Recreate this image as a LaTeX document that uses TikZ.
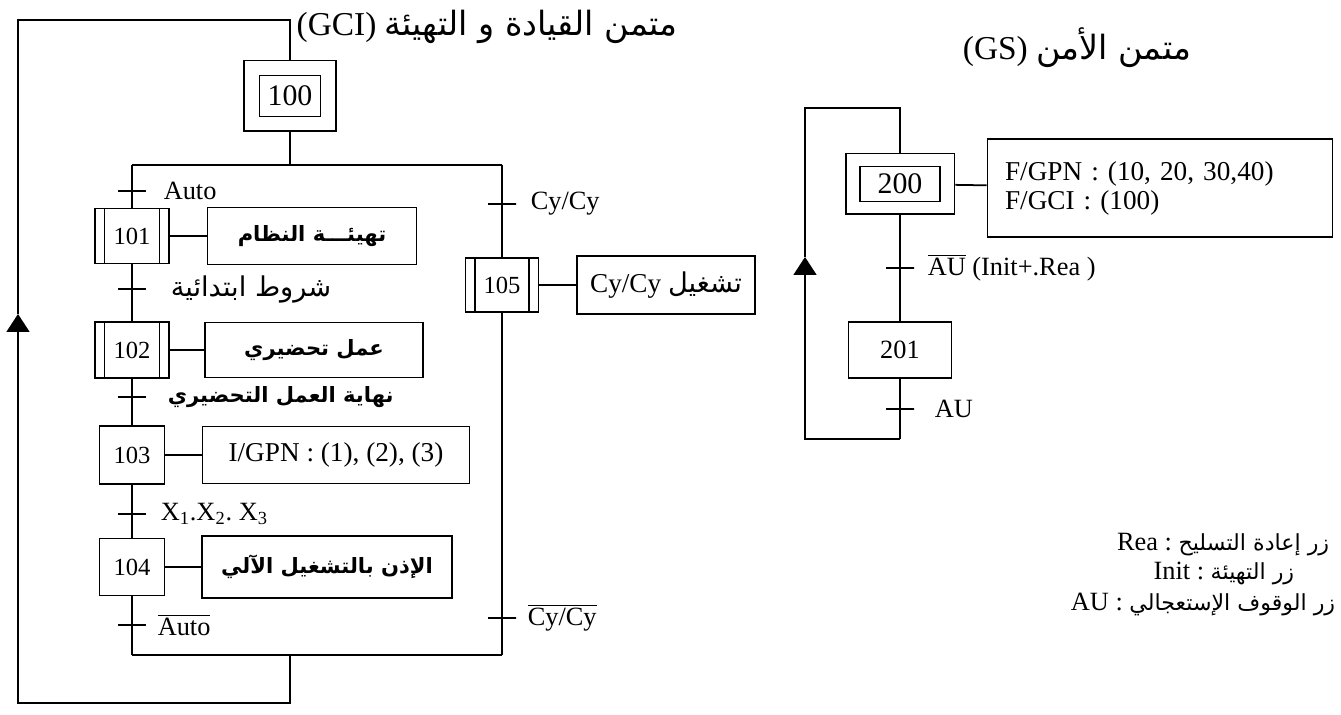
\documentclass[tikz,border=0pt]{standalone}
\usepackage{fontspec}
\setmainfont{Liberation Serif}
\newfontfamily\arabicfont[Script=Arabic]{DejaVu Sans}
\usetikzlibrary{arrows.meta,fit,positioning}
\TeXXeTstate=1
\newcommand{\artxt}[1]{{\arabicfont\beginR #1\endR}}
\newcommand{\keytxt}[1]{{\arabicfont\fontsize{12.6}{12.6}\selectfont\beginR #1\endR}}

\begin{document}
\frenchspacing
\begin{tikzpicture}[
  x=0.02cm, y=-0.02cm, line width=1pt,
  stepbox/.style={draw, inner sep=0pt, font=\fontsize{14}{14}\selectfont},
  macro/.style={stepbox, path picture={
      \draw ([xshift=0.19cm]path picture bounding box.north west) -- ([xshift=0.19cm]path picture bounding box.south west);
      \draw ([xshift=-0.19cm]path picture bounding box.north east) -- ([xshift=-0.19cm]path picture bounding box.south east);}},
  act/.style={draw, inner sep=0pt, font=\fontsize{15.5}{16.5}\selectfont},
  aract/.style={act, font=\arabicfont\bfseries\fontsize{12}{12}\selectfont},
  trans/.style={draw, inner sep=0pt, minimum width=0.56cm, minimum height=0pt},
  lbl/.style={inner sep=0pt, font=\fontsize{15}{15}\selectfont},
  arlbl/.style={lbl, font=\arabicfont\fontsize{15.5}{15.5}\selectfont},
  ttl/.style={inner sep=0pt, font=\fontsize{19}{19}\selectfont},
  backarrow/.style={-{Triangle[width=0.46cm,length=0.36cm]}}
]
\useasboundingbox (0,0) rectangle (1341,715);

\node[ttl] (gciT) at (487,27) {(GCI) \artxt{متمن القيادة و التهيئة}};
\node[stepbox, minimum width=1.22cm, minimum height=0.82cm, font=\fontsize{17}{17}\selectfont] (s100) at (290,96) {100};
\node[draw, inner xsep=0.29cm, inner ysep=0.28cm, fit=(s100)] (s100o) {};
\coordinate (dm) at (290,165);
\coordinate (dl) at (132,165);
\coordinate (dr) at (502,165);
\coordinate (cm) at (290,655);
\coordinate (cl) at (132,655);
\coordinate (cr) at (502,655);

\node[trans] (t1) at (132,191) {};
\node[lbl, right=0.32cm of t1] (l1) {Auto};
\node[macro, minimum width=1.48cm, minimum height=1.1cm] (s101) at (132,236) {101};
\node[aract, minimum width=4.18cm, minimum height=1.14cm] (a101) at (312,236) {\beginR تهيئـــة النظام\endR};
\node[trans] (t2) at (132,289) {};
\node[arlbl, right=0.46cm of t2] (l2) {\beginR شروط ابتدائية\endR};
\node[macro, minimum width=1.48cm, minimum height=1.12cm] (s102) at (132,350) {102};
\node[aract, minimum width=4.36cm, minimum height=1.1cm] (a102) at (314,350) {\beginR عمل تحضيري\endR};
\node[trans] (t3) at (132,397) {};
\node[arlbl, font=\arabicfont\bfseries\fontsize{12}{12}\selectfont, right=0.4cm of t3] (l3) {\beginR نهاية العمل التحضيري\endR};
\node[stepbox, minimum width=1.3cm, minimum height=1.16cm] (s103) at (132,455) {103};
\node[act, minimum width=5.34cm, minimum height=1.14cm] (a103) at (336,455) {I/GPN : (1), (2), (3)};
\node[trans] (t4) at (132,514) {};
\node[lbl, right=0.26cm of t4] (l4) {X\textsubscript{1}.X\textsubscript{2}. X\textsubscript{3}};
\node[stepbox, minimum width=1.3cm, minimum height=1.14cm] (s104) at (132,567) {104};
\node[aract, minimum width=5cm, minimum height=1.24cm] (a104) at (327,567) {\beginR الإذن بالتشغيل الآلي\endR};
\node[trans] (t5) at (132,625) {};
\node[lbl, right=0.2cm of t5] (l5) {$\overline{\hbox{Auto}}$};

\node[trans] (t6) at (502,204) {};
\node[lbl, right=0.26cm of t6] (l6) {Cy/Cy};
\node[macro, minimum width=1.46cm, minimum height=1.08cm] (s105) at (502,285) {105};
\node[act, minimum width=3.56cm, minimum height=1.16cm] (a105) at (666,285) {Cy/Cy \artxt{تشغيل}};
\node[trans] (t7) at (502,618) {};
\node[lbl, right=0.2cm of t7] (l7) {$\overline{\hbox{Cy/Cy}}$};

\coordinate (gciB) at (290,703);
\coordinate (gciC) at (18,703);
\coordinate (gciA) at (18,314);
\coordinate (gciD) at (18,20);

\draw (s100o) -- (dm);
\draw (dl) -- (dr);
\draw (dl) -- (t1) -- (s101) -- (t2) -- (s102) -- (t3) -- (s103) -- (t4) -- (s104) -- (t5) -- (cl);
\draw (dr) -- (t6) -- (s105) -- (t7) -- (cr);
\draw (cl) -- (cr);
\draw (s101) -- (a101);
\draw (s102) -- (a102);
\draw (s103) -- (a103);
\draw (s104) -- (a104);
\draw (s105) -- (a105);
\draw[backarrow] (cm) -- (gciB) -- (gciC) -- (gciA);
\draw (gciA) -- (gciD) -| (s100o);

\node[ttl] (gsT) at (1077,48) {(GS) \artxt{متمن الأمن}};
\node[stepbox, minimum width=1.6cm, minimum height=0.7cm, font=\fontsize{17}{17}\selectfont] (s200) at (900,184) {200};
\node[draw, inner xsep=0.27cm, inner ysep=0.24cm, fit=(s200)] (s200o) {};
\node[act, minimum width=6.9cm, minimum height=1.96cm, text width=6.2cm, align=left] (a200) at (1160,188) {F/GPN : (10, 20, 30,40)\\F/GCI : (100)};
\node[trans] (t8) at (900,268) {};
\node[lbl, right=0.24cm of t8] (l8) {$\overline{\hbox{AU}}$ (Init+.Rea )};
\node[stepbox, minimum width=2.06cm, minimum height=1.12cm, font=\fontsize{15}{15}\selectfont] (s201) at (900,350) {201};
\node[trans] (t9) at (900,409) {};
\node[lbl, right=0.38cm of t9] (l9) {AU};

\coordinate (gsB) at (900,439);
\coordinate (gsC) at (805,439);
\coordinate (gsA) at (805,257);
\coordinate (gsD) at (805,108);

\draw (s200o) -- (a200);
\draw (s200o) -- (t8) -- (s201) -- (t9) -- (gsB);
\draw[backarrow] (gsB) -- (gsC) -- (gsA);
\draw (gsA) -- (gsD) -| (s200o);

\node[lbl, anchor=east] (k1) at (1330,545) {Rea : \keytxt{زر إعادة التسليح}};
\node[lbl, anchor=east] (k2) at (1295,573) {Init : \keytxt{زر التهيئة}};
\node[lbl, anchor=east] (k3) at (1336,605) {AU : \keytxt{زر الوقوف الإستعجالي}};
\end{tikzpicture}
\end{document}
